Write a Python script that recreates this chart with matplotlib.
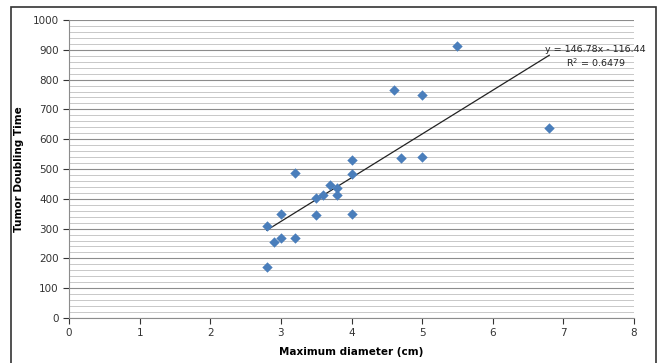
import numpy as np
import matplotlib
matplotlib.use("Agg")
import matplotlib.pyplot as plt
from matplotlib.patches import Rectangle
from matplotlib.ticker import MultipleLocator

diameter = [2.8, 2.8, 2.9, 3.0, 3.0, 3.2, 3.2, 3.5, 3.5, 3.6, 3.7,
            3.8, 3.8, 4.0, 4.0, 4.0, 4.6, 4.7, 5.0, 5.0, 5.5, 6.8]
doubling = [308, 172, 255, 268, 350, 268, 487, 345, 402, 413, 447,
            435, 412, 350, 483, 530, 765, 537, 750, 540, 912, 637]

slope, intercept = 146.78, -116.44
eq_text = "y = 146.78x - 116.44"
r2_text = "R$^2$ = 0.6479"

plt.rcParams['font.family'] = ['DejaVu Sans']

fig = plt.figure(figsize=(6.59, 3.63), dpi=100)
ax = fig.add_axes([69 / 659, 1 - 318 / 363, (634 - 69) / 659, (318 - 20) / 363])

# outer frame
fig.patches.append(Rectangle((11 / 659, -0.05), (656 - 11) / 659, 1.05 - 7 / 363,
                             transform=fig.transFigure, fill=False,
                             edgecolor="#333333", linewidth=1.2))

ax.set_xlim(0, 8)
ax.set_ylim(0, 1000)
ax.yaxis.set_major_locator(MultipleLocator(100))
ax.yaxis.set_minor_locator(MultipleLocator(20))
ax.xaxis.set_major_locator(MultipleLocator(1))
ax.grid(True, which="major", axis="y", color="#8c8c8c", linewidth=0.8)
ax.grid(True, which="minor", axis="y", color="#c8c8c8", linewidth=0.7)
ax.set_axisbelow(True)
ax.tick_params(axis="y", which="minor", length=0)
ax.tick_params(axis="both", which="major", labelsize=7.5, colors="#333333",
               length=4, width=0.8)
for side in ["top", "right"]:
    ax.spines[side].set_visible(False)
for side in ["left", "bottom"]:
    ax.spines[side].set_color("#8c8c8c")

ax.scatter(diameter, doubling, marker="D", s=28, color="#4a7ebb", zorder=3,
           linewidths=0)

xs = np.array([min(diameter), max(diameter)])
ax.plot(xs, slope * xs + intercept, color="#222222", linewidth=0.9, zorder=2)

ax.text(8.16, 900, eq_text, fontsize=6.8, ha="right", va="center",
        color="#222222", clip_on=False)
ax.text(7.88, 856, r2_text, fontsize=6.8, ha="right", va="center",
        color="#222222")

ax.set_xlabel("Maximum diameter (cm)", fontsize=7.5, fontweight="bold", labelpad=6)
ax.set_ylabel("Tumor Doubling Time", fontsize=7.5, fontweight="bold", labelpad=6)

fig.savefig("out.png", dpi=100)
